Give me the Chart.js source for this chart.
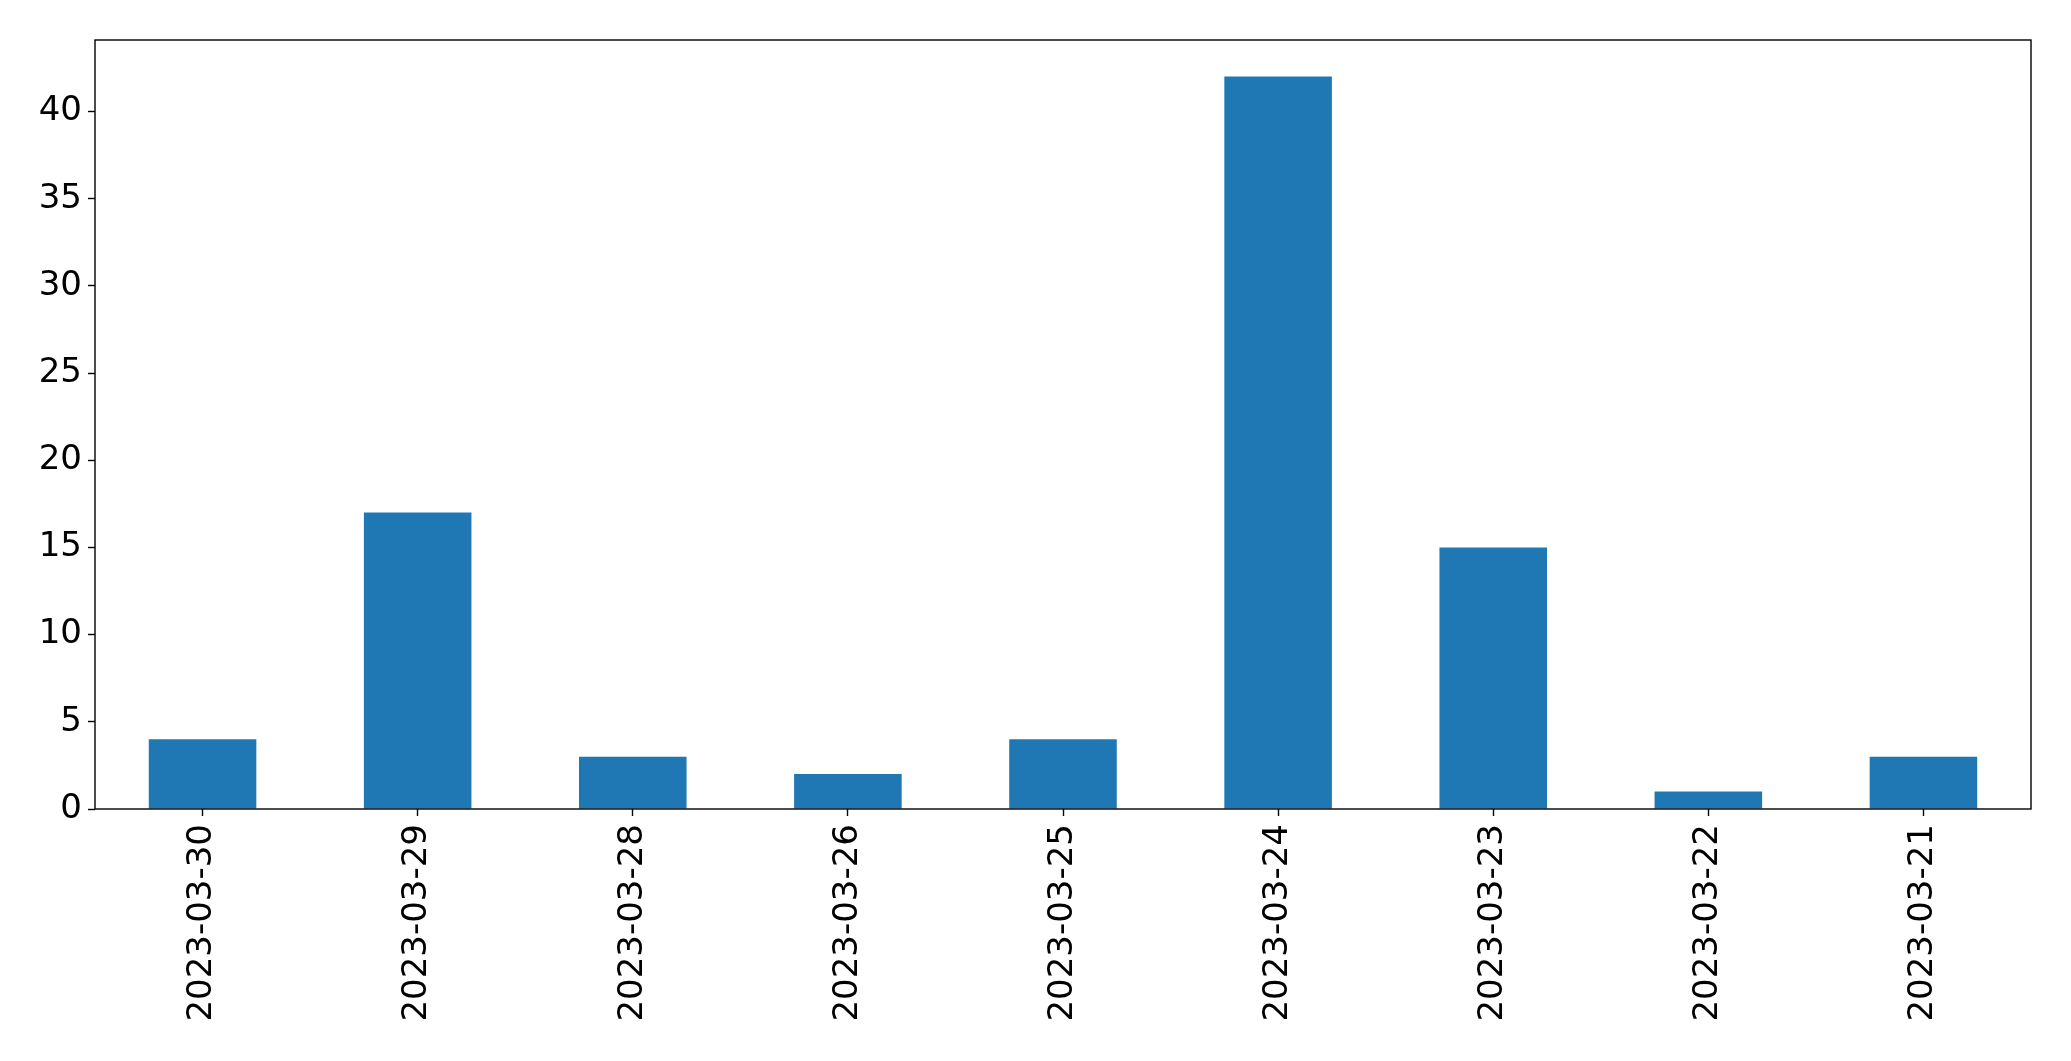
<!DOCTYPE html>
<html>
<head>
<meta charset="utf-8">
<script src="https://cdn.jsdelivr.net/npm/chart.js@4.4.0/dist/chart.umd.min.js"></script>
<style>
  html, body { margin: 0; padding: 0; background: #fff; }
  #wrap { width: 2071px; height: 1061px; }
</style>
</head>
<body>
<div id="wrap"><canvas id="chart" width="2071" height="1061"></canvas></div>
<script>
var dates = ['2023-03-30', '2023-03-29', '2023-03-28', '2023-03-26', '2023-03-25',
             '2023-03-24', '2023-03-23', '2023-03-22', '2023-03-21'];
var counts = [4, 17, 3, 2, 4, 42, 15, 1, 3];
var yTicks = [0, 5, 10, 15, 20, 25, 30, 35, 40];

// draws the box round the plot area, like matplotlib's spines
var frame = {
    id: 'frame',
    afterDraw: function(chart) {
        var a = chart.chartArea, ctx = chart.ctx;
        ctx.save();
        ctx.strokeStyle = '#000';
        ctx.lineWidth = 1.4;
        ctx.strokeRect(a.left, a.top, a.right - a.left, a.bottom - a.top);
        ctx.restore();
    }
};

Chart.defaults.font.family = 'DejaVu Sans';
Chart.defaults.color = '#000';

new Chart(document.getElementById('chart'), {
    type: 'bar',
    data: {
        labels: dates,
        datasets: [{
            data: counts,
            backgroundColor: '#1f77b4',
            borderWidth: 0,
            categoryPercentage: 1.0,
            barPercentage: 0.5
        }]
    },
    options: {
        responsive: false,
        animation: false,
        layout: { padding: { top: 40, right: 40, left: 0, bottom: 0 } },
        plugins: { legend: { display: false }, tooltip: { enabled: false } },
        scales: {
            x: {
                grid: { display: true, offset: false, drawOnChartArea: false, tickLength: 7, tickWidth: 1.4, tickColor: '#000' },
                border: { display: false },
                ticks: { font: { size: 34 }, minRotation: 90, maxRotation: 90, padding: 8, autoSkip: false },
                afterFit: function(scale) { scale.height = 252; }
            },
            y: {
                min: 0,
                max: 44.1,
                grid: { display: true, drawOnChartArea: false, tickLength: 7, tickWidth: 1.4, tickColor: '#000' },
                border: { display: false },
                ticks: { font: { size: 34 }, stepSize: 5, padding: 6 },
                afterBuildTicks: function(scale) {
                    scale.ticks = yTicks.map(function(v) { return { value: v }; });
                },
                afterFit: function(scale) { scale.width = 95; }
            }
        }
    },
    plugins: [frame]
});
</script>
</body>
</html>
